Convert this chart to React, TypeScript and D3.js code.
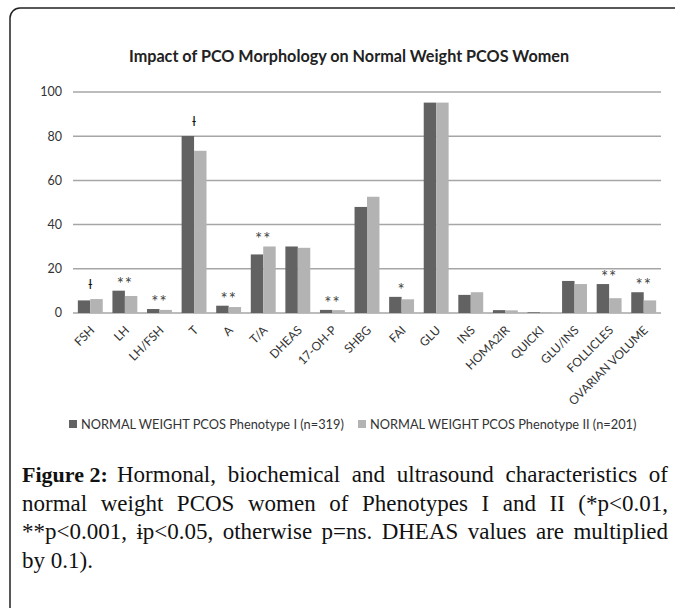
import * as d3 from "d3";
import { useEffect, useRef } from "react";

const categories = [
  "FSH", "LH", "LH/FSH", "T", "A", "T/A", "DHEAS", "17-OH-P", "SHBG",
  "FAI", "GLU", "INS", "HOMA2IR", "QUICKI", "GLU/INS", "FOLLICLES", "OVARIAN VOLUME",
];
const phenotype1 = [5.7, 10.1, 1.8, 80.1, 3.3, 26.5, 30.1, 1.4, 48.0, 7.3, 95.2, 8.2, 1.3, 0.3, 14.5, 13.1, 9.4];
const phenotype2 = [6.3, 7.7, 1.4, 73.4, 2.7, 30.1, 29.5, 1.3, 52.6, 6.2, 95.2, 9.4, 1.2, 0.3, 13.1, 6.7, 5.7];
const marks = ["ƚ", "**", "**", "ƚ", "**", "**", "", "**", "", "*", "", "", "", "", "", "**", "**"];
const yTicks = [0, 20, 40, 60, 80, 100];
const seriesNames = [
  "NORMAL WEIGHT PCOS Phenotype I (n=319)",
  "NORMAL WEIGHT PCOS Phenotype II (n=201)",
];
const captionLines = [
  "Hormonal, biochemical and ultrasound characteristics of",
  "normal weight PCOS women of Phenotypes I and II (*p<0.01,",
  "**p<0.001, ɨp<0.05, otherwise p=ns. DHEAS values are multiplied",
  "by 0.1).",
];

const W = 675;
const H = 608;
const COLORS = ["#626262", "#b3b3b3"];
const chartFont = "Lato, 'Open Sans', sans-serif";

export default function App() {
  const capRef = useRef<SVGGElement>(null);

  const x = d3.scaleBand<string>().domain(categories).range([73, 661]).paddingInner(0.28).paddingOuter(0.14);
  const inner = d3.scaleBand<number>().domain([0, 1]).range([0, x.bandwidth()]);
  const y = d3.scaleLinear().domain([0, 100]).range([313, 92]);

  // justify caption lines (all but the last) by stretching word spacing
  useEffect(() => {
    if (!capRef.current) return;
    const right = 668;
    d3.select(capRef.current)
      .selectAll<SVGTextElement, unknown>("text.cap")
      .each(function (_d, i) {
        if (i === captionLines.length - 1) return;
        const el = this as SVGTextElement;
        el.setAttribute("word-spacing", "0");
        const natural = el.getComputedTextLength();
        const startX = Number(el.getAttribute("x"));
        const spaces = (el.textContent || "").split(" ").length - 1;
        const extra = (right - startX - natural) / Math.max(spaces, 1);
        el.setAttribute("word-spacing", String(extra));
      });
  }, []);

  return (
    <svg width={W} height={H} style={{ position: "absolute", left: 0, top: 0, background: "#fff" }}>
      <rect x={10} y={8} width={W + 40} height={H + 40} rx={10} fill="none" stroke="#222" strokeWidth={1.5} />

      <text x={349} y={62} textAnchor="middle" fontFamily={chartFont} fontWeight={700} fontSize={16.2} fill="#222">
        Impact of PCO Morphology on Normal Weight PCOS Women
      </text>

      {yTicks.map((t) => (
        <g key={t}>
          <line x1={73} x2={661} y1={y(t)} y2={y(t)} stroke="#a6a6a6" strokeWidth={1.5} />
          <text x={62} y={y(t)} dy="0.35em" textAnchor="end" fontFamily={chartFont} fontSize={12.5} fill="#333">
            {t}
          </text>
        </g>
      ))}

      {categories.map((c, i) => {
        const x0 = x(c)!;
        const vals = [phenotype1[i], phenotype2[i]];
        const top = y(Math.max(...vals));
        const dagger = marks[i] === "ƚ";
        return (
          <g key={c}>
            {vals.map((v, s) => (
              <rect key={s} x={x0 + inner(s)!} y={y(v)} width={inner.bandwidth()} height={y(0) - y(v)} fill={COLORS[s]} />
            ))}
            {marks[i] && (
              <text
                x={x0 + x.bandwidth() / 2}
                y={dagger ? top - 10 : top - 1}
                textAnchor="middle"
                fontFamily={dagger ? "'DejaVu Sans', sans-serif" : chartFont}
                fontSize={dagger ? 13 : 17}
                letterSpacing={dagger ? 0 : 1}
                fill={dagger ? "#111" : "#444"}
              >
                {marks[i]}
              </text>
            )}
            <text
              transform={`translate(${x0 + x.bandwidth() / 2 + 5},${y(0) + 18}) rotate(-45)`}
              textAnchor="end"
              fontFamily={chartFont}
              fontSize={12}
              fill="#333"
            >
              {c}
            </text>
          </g>
        );
      })}

      {seriesNames.map((n, s) => {
        const lx = s === 0 ? 69 : 358;
        return (
          <g key={n}>
            <rect x={lx} y={420} width={8} height={8} fill={COLORS[s]} />
            <text x={lx + 12} y={429} fontFamily={chartFont} fontSize={12.8} fill="#333">
              {n}
            </text>
          </g>
        );
      })}

      <g ref={capRef} fontFamily="'Liberation Serif', serif" fontSize={23} fill="#111">
        {captionLines.map((line, i) => (
          <text key={i} className="cap" x={i === 0 ? 117 : 22} y={482 + i * 28.5}>
            {line}
          </text>
        ))}
        <text x={22} y={482} fontWeight={700} fontSize={22}>
          Figure 2:
        </text>
      </g>
    </svg>
  );
}
